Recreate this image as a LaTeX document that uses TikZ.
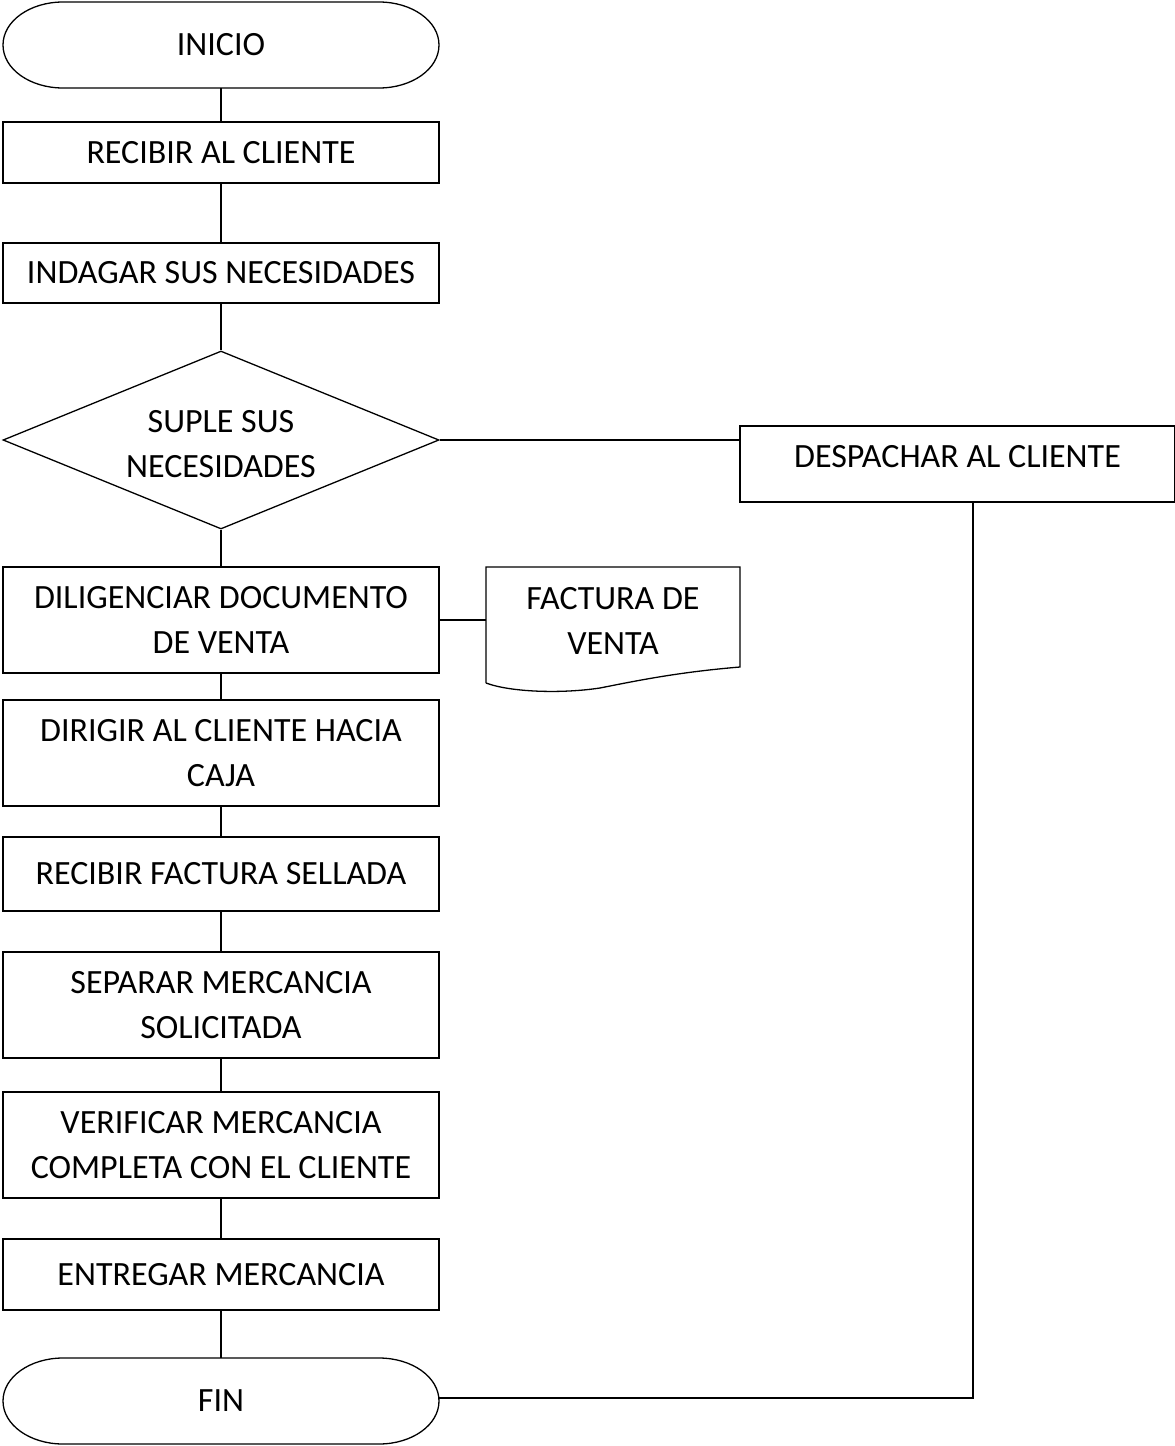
\documentclass[tikz,border=0pt]{standalone}
\usepackage{fontspec}
\setmainfont{Carlito}
\usetikzlibrary{shapes.geometric}
\begin{document}
\begin{tikzpicture}[x=1pt,y=-1pt,
  box/.style={draw,line width=1.3pt,minimum width=436pt,inner sep=0pt,align=center,font=\fontsize{34}{45}\selectfont},
  txt/.style={align=center,font=\fontsize{34}{45}\selectfont},
  conn/.style={line width=1.3pt}]
\useasboundingbox (0,0) rectangle (1175,1446);
% terminators
\draw[conn] (63,2) -- (379,2) .. controls (412,2) and (439,21) .. (439,45) .. controls (439,69) and (412,88) .. (379,88) -- (63,88) .. controls (30,88) and (3,69) .. (3,45) .. controls (3,21) and (30,2) .. cycle;
\node[txt] (inicio) at (221,45) {INICIO};
\coordinate (inicioB) at (221,88);
\draw[conn] (63,1358) -- (379,1358) .. controls (412,1358) and (439,1377) .. (439,1401) .. controls (439,1425) and (412,1444) .. (379,1444) -- (63,1444) .. controls (30,1444) and (3,1425) .. (3,1401) .. controls (3,1377) and (30,1358) .. cycle;
\node[txt] (fin) at (221,1401) {FIN};
\coordinate (finT) at (221,1358);
\coordinate (finR) at (439,1398);
% process boxes
\node[box,minimum height=61pt] (recibir) at (221,152.5) {RECIBIR AL CLIENTE};
\node[box,minimum height=60pt] (indagar) at (221,273) {INDAGAR SUS NECESIDADES};
\node[draw,line width=1.3pt,diamond,minimum width=436pt,minimum height=178pt,inner sep=0pt,aspect=2.45] (dec) at (221,440) {};
\node[txt] at (221,444) {SUPLE SUS\\NECESIDADES};
\node[box,minimum width=435pt,minimum height=76pt] (desp) at (957.5,464) {};
\node[txt] at (957.5,457) {DESPACHAR AL CLIENTE};
\node[box,minimum height=106pt] (dilig) at (221,620) {DILIGENCIAR DOCUMENTO\\DE VENTA};
\node[box,minimum height=106pt] (dirigir) at (221,753) {DIRIGIR AL CLIENTE HACIA\\CAJA};
\node[box,minimum height=74pt] (recfac) at (221,874) {RECIBIR FACTURA SELLADA};
\node[box,minimum height=106pt] (separar) at (221,1005) {SEPARAR MERCANCIA\\SOLICITADA};
\node[box,minimum height=106pt] (verif) at (221,1145) {VERIFICAR MERCANCIA\\COMPLETA CON EL CLIENTE};
\node[box,minimum height=71pt] (entregar) at (221,1274.5) {ENTREGAR MERCANCIA};
% document shape
\draw[conn] (486,683) -- (486,567) -- (740,567) -- (740,667) .. controls (680,672) and (640,680) .. (600,688) .. controls (560,694) and (510,692) .. (486,683);
\node[txt] (factura) at (613,621) {FACTURA DE\\VENTA};
\coordinate (facL) at (486,620);
% connectors
\draw[conn] (inicioB) -- (recibir.north);
\draw[conn] (recibir.south) -- (indagar.north);
\draw[conn] (indagar.south) -- (dec.north);
\draw[conn] (dec.south) -- (dilig.north);
\draw[conn] (dilig.south) -- (dirigir.north);
\draw[conn] (dirigir.south) -- (recfac.north);
\draw[conn] (recfac.south) -- (separar.north);
\draw[conn] (separar.south) -- (verif.north);
\draw[conn] (verif.south) -- (entregar.north);
\draw[conn] (entregar.south) -- (finT);
\draw[conn] (dec.east) -- (desp.west |- dec.east);
\draw[conn] (dilig.east) -- (facL);
\draw[conn] (desp.south -| 973,0) -- (973,1398) -- (finR);
\end{tikzpicture}
\end{document}
